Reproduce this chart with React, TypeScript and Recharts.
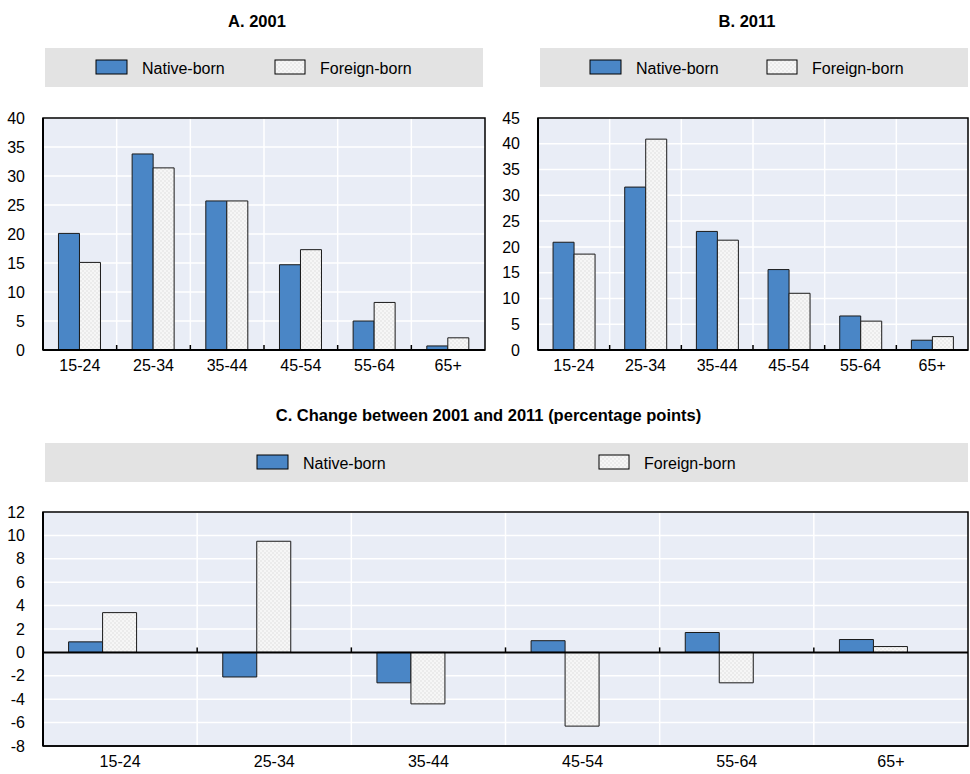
import React from 'react';
import {
  BarChart,
  Bar,
  XAxis,
  YAxis,
  CartesianGrid,
  ReferenceLine,
  ReferenceArea,
} from 'recharts';

// Age groups shown on every panel
const ageGroups = ['15-24', '25-34', '35-44', '45-54', '55-64', '65+'];

// Panel A: 2001 age distribution (%)
const native2001 = [20.1, 33.8, 25.7, 14.7, 5.0, 0.7];
const foreign2001 = [15.1, 31.4, 25.7, 17.3, 8.2, 2.1];

// Panel B: 2011 age distribution (%)
const native2011 = [20.9, 31.6, 23.0, 15.6, 6.6, 1.9];
const foreign2011 = [18.6, 40.9, 21.3, 11.0, 5.6, 2.6];

// Panel C: change between 2001 and 2011 (percentage points)
const nativeChange = [0.9, -2.1, -2.6, 1.0, 1.7, 1.1];
const foreignChange = [3.4, 9.5, -4.4, -6.3, -2.6, 0.5];

const ticks2001 = [0, 5, 10, 15, 20, 25, 30, 35, 40];
const ticks2011 = [0, 5, 10, 15, 20, 25, 30, 35, 40, 45];
const ticksChange = [-8, -6, -4, -2, 0, 2, 4, 6, 8, 10, 12];

const seriesNames = ['Native-born', 'Foreign-born'];

const FONT = '"Liberation Sans", Arial, Helvetica, sans-serif';
const BLUE = '#4a86c6';
const PLOT_BG = '#e9edf6';
const LEGEND_BG = '#e3e3e3';
const DOTS = 'url(#foreignDots)';

type Row = { age: string; native: number; foreign: number };

const buildRows = (nat: number[], forg: number[]): Row[] =>
  ageGroups.map((age, i) => ({ age, native: nat[i], foreign: forg[i] }));

const rows2001 = buildRows(native2001, foreign2001);
const rows2011 = buildRows(native2011, foreign2011);
const rowsChange = buildRows(nativeChange, foreignChange);

// White vertical grid lines sit on the boundaries between age groups
const boundaryGenerator = (count: number) => (props: any) => {
  const { offset, width } = props;
  const left = offset.left;
  const w = offset.width ?? width - offset.left - offset.right;
  const out: number[] = [];
  for (let i = 1; i < count; i++) out.push(left + (w * i) / count);
  return out;
};

// Zero line with small inward tick marks at the group boundaries
const zeroLineShape = (count: number) => (props: any) => {
  const { x1, y1, x2, y2 } = props;
  const step = (x2 - x1) / count;
  const marks: React.ReactElement[] = [];
  for (let i = 1; i < count; i++) {
    const x = x1 + step * i;
    marks.push(
      <line key={i} x1={x} x2={x} y1={y1} y2={y1 - 5} stroke="#000" strokeWidth={1.5} />
    );
  }
  return (
    <g>
      <line x1={x1} y1={y1} x2={x2} y2={y2} stroke="#000" strokeWidth={2} />
      {marks}
    </g>
  );
};

const tickStyle = { fill: '#000', fontSize: 16, fontFamily: FONT };

type PanelProps = {
  rows: Row[];
  ticks: number[];
  width: number;
  height: number;
  marginTop: number;
  marginRight: number;
  yAxisWidth: number;
  xAxisHeight: number;
  categoryGap: string;
  withSpacer?: boolean;
};

function Panel(p: PanelProps) {
  const lo = p.ticks[0];
  const hi = p.ticks[p.ticks.length - 1];
  return (
    <BarChart
      width={p.width}
      height={p.height}
      data={p.rows}
      margin={{ top: p.marginTop, right: p.marginRight, bottom: 0, left: 0 }}
      barCategoryGap={p.categoryGap}
      barGap={0}
    >
      <CartesianGrid
        fill={PLOT_BG}
        fillOpacity={1}
        stroke="#ffffff"
        strokeWidth={1.5}
        verticalCoordinatesGenerator={boundaryGenerator(p.rows.length)}
      />
      <XAxis
        dataKey="age"
        interval={0}
        tickLine={false}
        tickSize={6}
        tickMargin={4}
        height={p.xAxisHeight}
        axisLine={{ stroke: '#000', strokeWidth: 1.5 }}
        tick={tickStyle}
      />
      <YAxis
        domain={[lo, hi]}
        ticks={p.ticks}
        interval={0}
        width={p.yAxisWidth}
        tickLine={false}
        tickSize={6}
        tickMargin={12}
        axisLine={{ stroke: '#000', strokeWidth: 2 }}
        tick={tickStyle}
      />
      <Bar dataKey="native" name={seriesNames[0]} fill={BLUE} stroke="#1a1a1a" strokeWidth={1} isAnimationActive={false} />
      <Bar dataKey="foreign" name={seriesNames[1]} fill={DOTS} stroke="#1a1a1a" strokeWidth={1} isAnimationActive={false} />
      {p.withSpacer ? <Bar dataKey="blank" fill="none" legendType="none" isAnimationActive={false} /> : null}
      <ReferenceArea y1={lo} y2={hi} fill="none" stroke="#000" strokeWidth={1.5} ifOverflow="visible" />
      <ReferenceLine y={0} shape={zeroLineShape(p.rows.length)} ifOverflow="visible" />
    </BarChart>
  );
}

function Swatch({ x, y, w, fill }: { x: number; y: number; w: number; fill: string }) {
  return <rect x={x} y={y} width={w} height={14} fill={fill} stroke="#000" strokeWidth={1} />;
}

function LegendRow(props: {
  box: [number, number, number, number];
  nativeX: number;
  foreignX: number;
  baseline: number;
}) {
  const [bx, by, bw, bh] = props.box;
  const sy = props.baseline - 14;
  return (
    <g>
      <rect x={bx} y={by} width={bw} height={bh} fill={LEGEND_BG} />
      <Swatch x={props.nativeX} y={sy} w={31} fill={BLUE} />
      <text x={props.nativeX + 46} y={props.baseline} fontSize={16} fontFamily={FONT} fill="#000">
        {seriesNames[0]}
      </text>
      <Swatch x={props.foreignX} y={sy} w={30} fill={DOTS} />
      <text x={props.foreignX + 45} y={props.baseline} fontSize={16} fontFamily={FONT} fill="#000">
        {seriesNames[1]}
      </text>
    </g>
  );
}

export default function App() {
  return (
    <div
      style={{
        position: 'absolute',
        left: 0,
        top: 0,
        width: 970,
        height: 774,
        background: '#fff',
        fontFamily: FONT,
        overflow: 'hidden',
      }}
    >
      <svg width={0} height={0} style={{ position: 'absolute' }}>
        <defs>
          <pattern id="foreignDots" width={4} height={4} patternUnits="userSpaceOnUse">
            <rect width={4} height={4} fill="#f6f6f6" />
            <circle cx={1} cy={1} r={0.7} fill="#d9d9d9" />
            <circle cx={3} cy={3} r={0.7} fill="#d9d9d9" />
          </pattern>
        </defs>
      </svg>

      <div style={{ position: 'absolute', left: 0, top: 0 }}>
        <Panel
          rows={rows2001}
          ticks={ticks2001}
          width={490}
          height={380}
          marginTop={118}
          marginRight={5}
          yAxisWidth={43}
          xAxisHeight={30}
          categoryGap="21%"
        />
      </div>
      <div style={{ position: 'absolute', left: 490, top: 0 }}>
        <Panel
          rows={rows2011}
          ticks={ticks2011}
          width={480}
          height={380}
          marginTop={118}
          marginRight={2}
          yAxisWidth={48}
          xAxisHeight={30}
          categoryGap="21%"
        />
      </div>
      <div style={{ position: 'absolute', left: 0, top: 380 }}>
        <Panel
          rows={rowsChange}
          ticks={ticksChange}
          width={970}
          height={394}
          marginTop={132}
          marginRight={2}
          yAxisWidth={43}
          xAxisHeight={28}
          categoryGap="16.6%"
          withSpacer
        />
      </div>

      <svg
        width={970}
        height={774}
        style={{ position: 'absolute', left: 0, top: 0, pointerEvents: 'none' }}
      >
        <g fontFamily={FONT} fontWeight="bold" fontSize={16.5} fill="#000" textAnchor="middle">
          <text x={257} y={26.5}>A. 2001</text>
          <text x={747} y={26.5}>B. 2011</text>
          <text x={488.5} y={421}>C. Change between 2001 and 2011 (percentage points)</text>
        </g>
        <LegendRow box={[45, 48, 438, 39]} nativeX={96} foreignX={275} baseline={74} />
        <LegendRow box={[540, 48, 428, 39]} nativeX={590} foreignX={767} baseline={74} />
        <LegendRow box={[45, 443, 923, 39]} nativeX={257} foreignX={599} baseline={469} />
      </svg>
    </div>
  );
}
